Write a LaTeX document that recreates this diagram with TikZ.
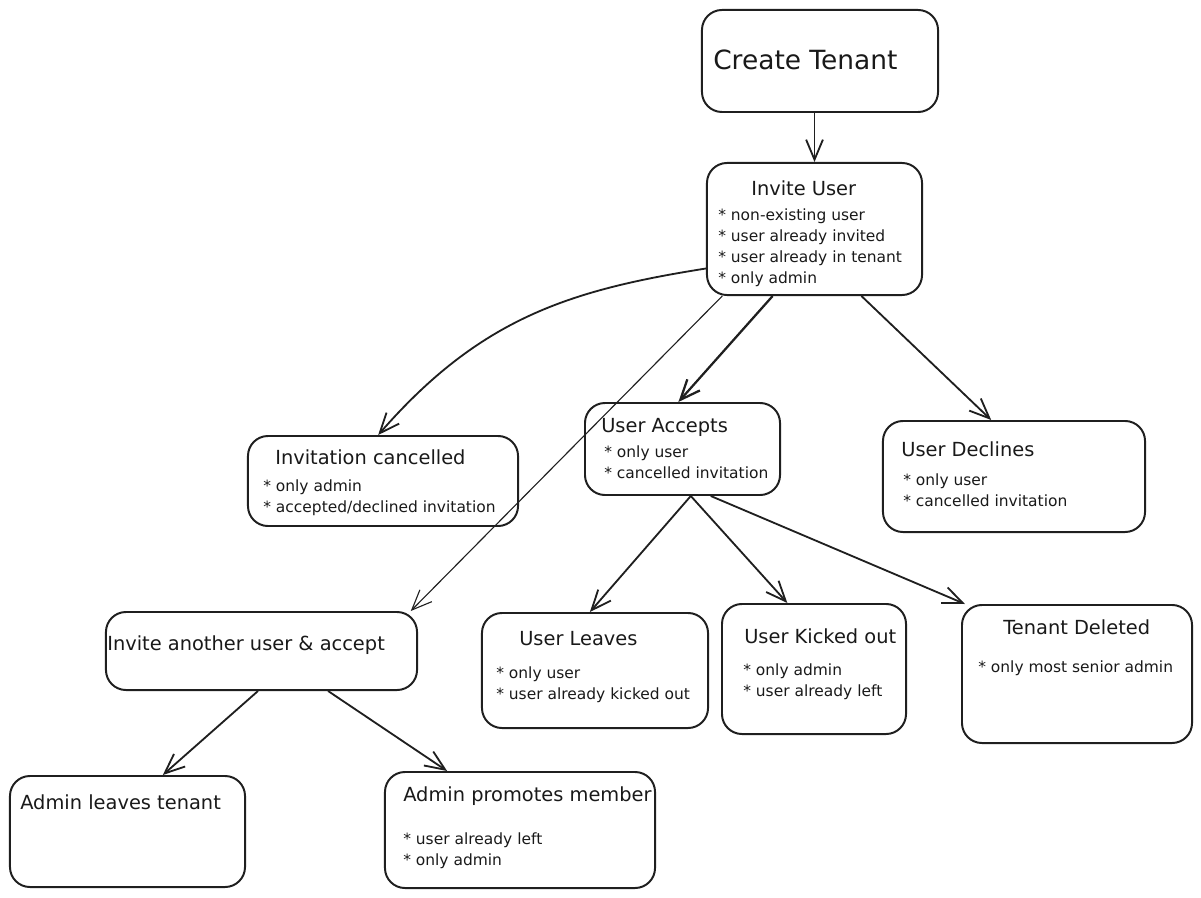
\documentclass[tikz,border=0pt]{standalone}
\usepackage{fontspec}
\setmainfont{DejaVu Sans}
\usetikzlibrary{arrows.meta}

\begin{document}
\begin{tikzpicture}[
    x=0.025cm, y=-0.025cm,
    box/.style 2 args={rectangle, draw=black!88, line width=1.4pt, rounded corners=0.5cm, inner sep=0pt, minimum width=#1, minimum height=#2},
    big/.style={anchor=west, inner sep=0pt, text=black!90, font=\fontsize{18.8}{22}\selectfont},
    ttl/.style={anchor=west, inner sep=0pt, text=black!90, font=\fontsize{13.8}{16}\selectfont},
    lst/.style={anchor=west, inner sep=0pt, text=black!90, align=left, font=\fontsize{11}{14.9}\selectfont},
    arr/.style={-{Straight Barb[length=0.5cm, width=0.42cm]}, line width=1.3pt, draw=black!88}
]
    \useasboundingbox (0,0) rectangle (1201,898);

    \node[box={5.9cm}{2.55cm}] (create) at (820,61) {};
    \node[big] (createT) at (713,60) {Create Tenant};

    \node[box={5.375cm}{3.3cm}] (invite) at (814.5,229) {};
    \node[ttl] (inviteT) at (751,188) {Invite User};
    \node[lst] (inviteL) at (718,247.5) {* non-existing user\\* user already invited\\* user already in tenant\\* only admin};

    \node[box={6.75cm}{2.25cm}] (cancel) at (383,481) {};
    \node[ttl] (cancelT) at (275,457) {Invitation cancelled};
    \node[lst] (cancelL) at (263,497.5) {* only admin\\* accepted/declined invitation};

    \node[box={4.875cm}{2.3cm}] (accept) at (682.5,449) {};
    \node[ttl] (acceptT) at (601,427) {User Accepts};
    \node[lst] (acceptL) at (604,462.5) {* only user\\* cancelled invitation};

    \node[box={6.55cm}{2.775cm}] (decline) at (1014,476.5) {};
    \node[ttl] (declineT) at (901,449) {User Declines};
    \node[lst] (declineL) at (903,490) {* only user\\* cancelled invitation};

    \node[box={7.775cm}{1.95cm}] (another) at (261.5,651) {};
    \node[ttl] (anotherT) at (107,645) {Invite another user \& accept};

    \node[box={5.65cm}{2.875cm}] (leave) at (595,670.5) {};
    \node[ttl] (leaveT) at (519,639) {User Leaves};
    \node[lst] (leaveL) at (496,685) {* only user\\* user already kicked out};

    \node[box={4.6cm}{3.25cm}] (kick) at (814,669) {};
    \node[ttl] (kickT) at (744,636) {User Kicked out};
    \node[lst] (kickL) at (743,682) {* only admin\\* user already left};

    \node[box={5.75cm}{3.45cm}] (delete) at (1077,674) {};
    \node[ttl] (deleteT) at (1003,627) {Tenant Deleted};
    \node[lst] (deleteL) at (978,668) {* only most senior admin};

    \node[box={5.875cm}{2.775cm}] (adminleave) at (127.5,831.5) {};
    \node[ttl] (adminleaveT) at (20,802) {Admin leaves tenant};

    \node[box={6.75cm}{2.9cm}] (promote) at (520,830) {};
    \node[ttl] (promoteT) at (403,796) {Admin promotes member};
    \node[lst] (promoteL) at (403,851) {* user already left\\* only admin};

    \draw[arr] (create.south -| invite.north) -- (invite.north);
    \draw[arr] (invite.200) .. controls (570,290) and (480,318) .. (cancel.96);
    \draw[arr, line width=0.8pt] (invite.216) -- (another.15);
    \draw[arr, line width=1.6pt] (invite.238) -- (accept.95);
    \draw[arr] (invite.305) -- (decline.112);
    \draw[arr] (accept.280) -- (leave.95);
    \draw[arr] (accept.280) -- (kick.112);
    \draw[arr] (accept.301) -- (delete.148);
    \draw[arr] (another.265) -- (adminleave.58);
    \draw[arr] (another.329) -- (promote.141);
\end{tikzpicture}
\end{document}
